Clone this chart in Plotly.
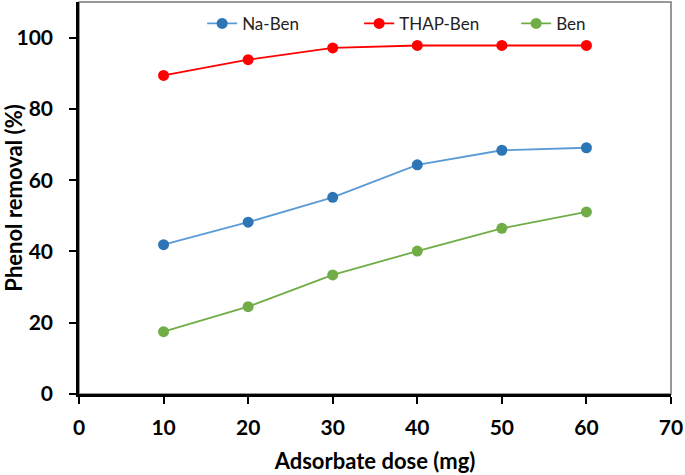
import plotly.graph_objects as go

dose = [10, 20, 30, 40, 50, 60]
na_ben = [41.9, 48.2, 55.2, 64.3, 68.4, 69.1]
thap_ben = [89.4, 93.8, 97.1, 97.8, 97.8, 97.8]
ben = [17.5, 24.5, 33.4, 40.1, 46.5, 51.1]

x_ticks = [0, 10, 20, 30, 40, 50, 60, 70]
y_ticks = [0, 20, 40, 60, 80, 100]

series = [
    ("Na-Ben", na_ben, "#2E75B6", "#5B9BD5"),
    ("THAP-Ben", thap_ben, "#FF0000", "#FF0000"),
    ("Ben", ben, "#70AD47", "#70AD47"),
]

fig = go.Figure()
for name, vals, mcol, lcol in series:
    fig.add_trace(go.Scatter(
        x=dose, y=vals, name=name, mode="lines+markers",
        line=dict(color=lcol, width=1.8),
        marker=dict(color=mcol, size=11, line=dict(width=0)),
    ))

font_family = "Lato, 'Open Sans', sans-serif"

fig.add_shape(type="rect", xref="paper", yref="paper", x0=0, y0=0, x1=1, y1=1,
              line=dict(color="#767676", width=1.5), layer="below")

fig.update_layout(
    width=685, height=475,
    margin=dict(l=79, r=14, t=2, b=81, autoexpand=False),
    paper_bgcolor="white", plot_bgcolor="white",
    font=dict(family=font_family, color="black"),
    showlegend=True,
    legend=dict(orientation="h", x=0.208, y=0.99, xanchor="left", yanchor="top",
                bgcolor="rgba(0,0,0,0)", font=dict(size=17, color="#222"),
                entrywidth=112, entrywidthmode="pixels", tracegroupgap=0),
    xaxis=dict(
        range=[0, 70], tickvals=x_ticks, ticktext=[str(v) for v in x_ticks],
        showgrid=False, zeroline=False, showline=True, linecolor="black", linewidth=2.5,
        ticks="outside", ticklen=7, tickwidth=2, tickcolor="black", automargin=False,
        ticklabelstandoff=6, ticklabeloverflow="allow",
        tickfont=dict(size=21, family=font_family, weight="bold"),
        title=dict(text="<b>Adsorbate dose (mg)</b>", font=dict(size=22), standoff=16),
    ),
    yaxis=dict(
        range=[0, 110], tickvals=y_ticks, ticktext=[str(v) for v in y_ticks],
        showgrid=False, zeroline=False, showline=True, linecolor="black", linewidth=2.5,
        ticks="outside", ticklen=7, tickwidth=2, tickcolor="black", automargin=False,
        ticklabelstandoff=12, ticklabeloverflow="allow",
        tickfont=dict(size=21, family=font_family, weight="bold"),
        title=dict(text="<b>Phenol removal (%)</b>", font=dict(size=22), standoff=6),
    ),
)

fig.write_html("out.html", config={"displayModeBar": False},
               post_script="document.body.style.margin='0';document.body.style.padding='0';")
